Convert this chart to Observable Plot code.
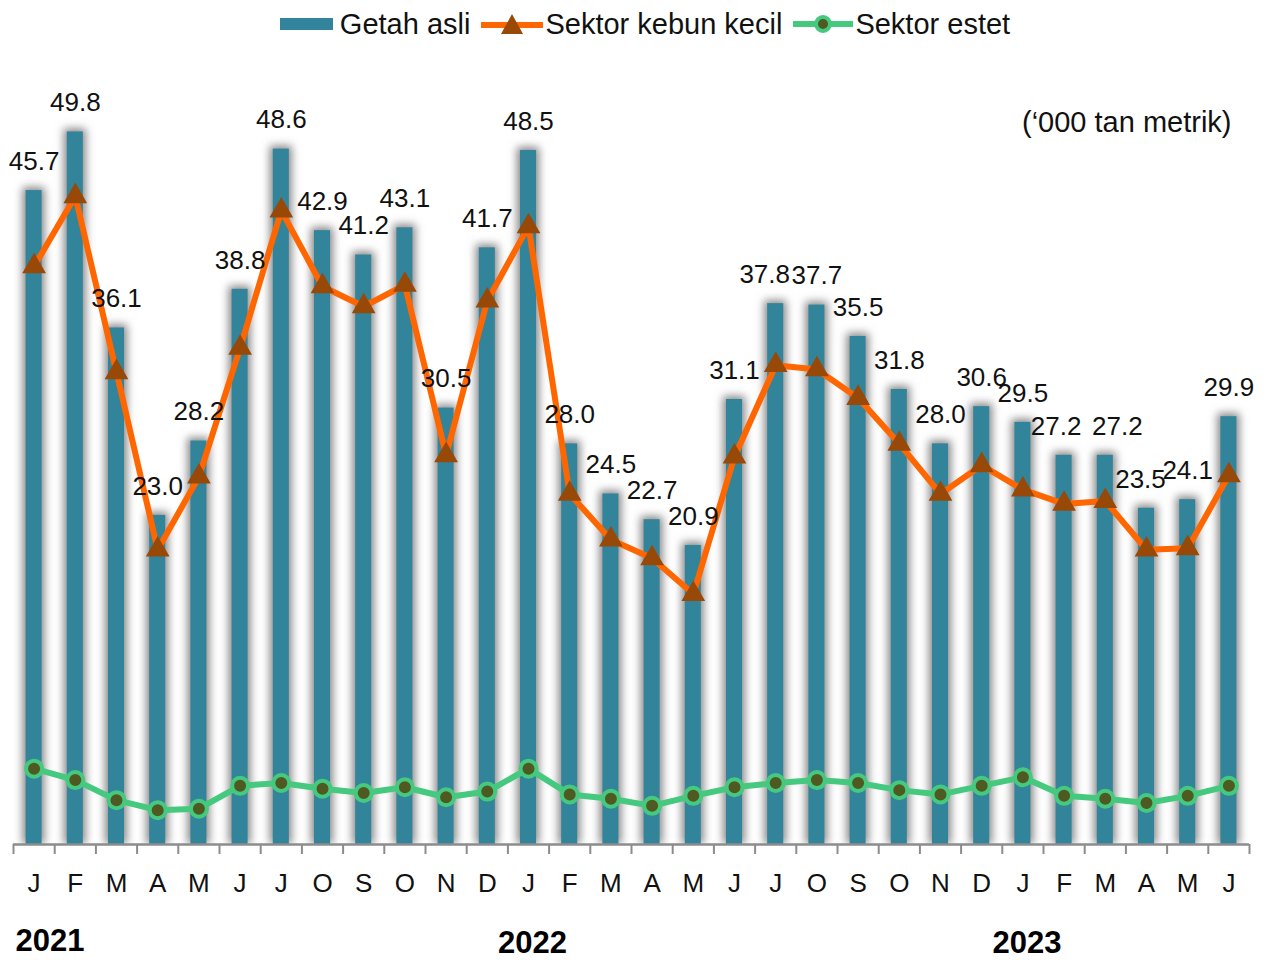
<!DOCTYPE html>
<html>
<head>
<meta charset="utf-8">
<script src="https://cdn.jsdelivr.net/npm/d3@7"></script>
<script src="https://cdn.jsdelivr.net/npm/@observablehq/plot@0.6"></script>
<style>
  html, body { margin: 0; padding: 0; background: #fff; }
  body { width: 1268px; font-family: Arial, "Liberation Sans", sans-serif; color: #111; }
  #legend { height: 48px; display: flex; align-items: center; justify-content: center; padding-left: 22px; box-sizing: border-box; font-size: 29px; }
  .item { display: flex; align-items: center; margin: 0 5px; }
  .item svg { display: block; }
  #chart svg { display: block; }
</style>
</head>
<body>
<div id="legend"></div>
<div id="chart"></div>
<script>
// ---- Data (thousand tonnes) ----
const monthLetters = ["J","F","M","A","M","J","J","O","S","O","N","D",
                      "J","F","M","A","M","J","J","O","S","O","N","D",
                      "J","F","M","A","M","J"];
const yearLabels = ["2021", "2022", "2023"];
const yearStartIndex = [0, 12, 24];

const getahAsli = [45.7, 49.8, 36.1, 23.0, 28.2, 38.8, 48.6, 42.9, 41.2, 43.1, 30.5, 41.7,
                   48.5, 28.0, 24.5, 22.7, 20.9, 31.1, 37.8, 37.7, 35.5, 31.8, 28.0, 30.6,
                   29.5, 27.2, 27.2, 23.5, 24.1, 29.9];
const kebunKecil = [40.4, 45.3, 33.0, 20.6, 25.7, 34.7, 44.3, 39.0, 37.6, 39.1, 27.2, 38.0,
                    43.2, 24.5, 21.3, 20.0, 17.5, 27.1, 33.5, 33.2, 31.2, 28.0, 24.5, 26.5,
                    24.8, 23.8, 24.0, 20.6, 20.7, 25.8];
const estet = [5.3, 4.5, 3.1, 2.4, 2.5, 4.1, 4.3, 3.9, 3.6, 4.0, 3.3, 3.7,
               5.3, 3.5, 3.2, 2.7, 3.4, 4.0, 4.3, 4.5, 4.3, 3.8, 3.5, 4.1,
               4.7, 3.4, 3.2, 2.9, 3.4, 4.1];
const seriesNames = ["Getah asli", "Sektor kebun kecil", "Sektor estet"];
const unitNote = "(\u2018000 tan metrik)";

// ---- Colours ----
const C_BAR = "#31849b", C_ORANGE = "#ff6600", C_TRI = "#984807", C_GREEN = "#45c97e", C_DOT = "#4f5a22";

// ---- Tables ----
const idx = d3.range(getahAsli.length);
const bars = idx.map(i => ({i, v: getahAsli[i]}));
const small = idx.map(i => ({i, v: kebunKecil[i]}));
const est = idx.map(i => ({i, v: estet[i]}));
const years = yearLabels.map((y, k) => ({i: yearStartIndex[k], y}));

// ---- Legend ----
const legend = document.getElementById("legend");
function addItem(svgMarkup, label, textGap) {
  const d = document.createElement("div");
  d.className = "item";
  d.innerHTML = svgMarkup + `<span style="margin-left:${textGap}px">${label}</span>`;
  legend.appendChild(d);
}
addItem(`<svg width="53" height="14"><rect x="0" y="1" width="53" height="12" fill="${C_BAR}"/></svg>`, seriesNames[0], 7);
addItem(`<svg width="64" height="26"><line x1="1" x2="63" y1="14" y2="14" stroke="${C_ORANGE}" stroke-width="6"/><path d="M32,3 L43,23 L21,23 Z" fill="${C_TRI}"/></svg>`, seriesNames[1], 1);
addItem(`<svg width="62" height="24"><line x1="1" x2="61" y1="12" y2="12" stroke="${C_GREEN}" stroke-width="6"/><circle cx="31" cy="12" r="7" fill="${C_DOT}" stroke="${C_GREEN}" stroke-width="4"/></svg>`, seriesNames[2], 1);

// ---- Chart ----
const W = 1268, H = 912, mL = 13, mR = 19, mT = 9, mB = 116;
const step = (W - mL - mR) / idx.length;

// label nudges (style only) to keep crowded labels apart
const nudges = [[18, -11], [25, -8], [26, 12], [27, -6]];
const nudged = new Set(nudges.map(n => n[0]));
const labelText = d => d.v.toFixed(1);
const labelOpts = {x: "i", y: "v", text: labelText, dy: -29, lineAnchor: "middle", fontSize: 26, fill: "#111"};

const chart = Plot.plot({
  width: W, height: H,
  marginLeft: mL, marginRight: mR, marginTop: mT, marginBottom: mB,
  style: {fontFamily: "Arial, 'Liberation Sans', sans-serif", color: "#111", background: "#fff", overflow: "visible"},
  x: {type: "band", domain: idx, paddingInner: 0.61, paddingOuter: 0.305, round: false, axis: null, label: null},
  y: {domain: [0, 55], axis: null},
  marks: [
    Plot.barY(bars, {x: "i", y: "v", fill: C_BAR}),
    Plot.ruleY([0], {stroke: "#8c8c8c", strokeWidth: 2.5}),
    Plot.ruleX(idx, {x: d => d, y1: 0, y2: 0, dx: -step / 2, insetBottom: -10, stroke: "#8c8c8c", strokeWidth: 2}),
    Plot.ruleX([idx[idx.length - 1]], {x: d => d, y1: 0, y2: 0, dx: step / 2, insetBottom: -10, stroke: "#8c8c8c", strokeWidth: 2}),
    Plot.axisX({tickSize: 0, tickPadding: 29, fontSize: 26, label: null, tickFormat: i => monthLetters[i], color: "#111"}),
    Plot.line(small, {x: "i", y: "v", stroke: C_ORANGE, strokeWidth: 6, strokeLinejoin: "round"}),
    Plot.dot(small, {x: "i", y: "v", symbol: "triangle", r: 8.8, fill: C_TRI, stroke: "none"}),
    Plot.line(est, {x: "i", y: "v", stroke: C_GREEN, strokeWidth: 6, strokeLinejoin: "round"}),
    Plot.dot(est, {x: "i", y: "v", r: 8, fill: C_DOT, stroke: C_GREEN, strokeWidth: 4}),
    Plot.text(bars.filter(d => !nudged.has(d.i)), labelOpts),
    ...nudges.map(([k, dx]) => Plot.text(bars.filter(d => d.i === k), {...labelOpts, dx})),
    Plot.text(years.slice(0, 1), {x: "i", y: 0, text: "y", dy: 97, dx: 16, lineAnchor: "middle", fontSize: 31, fontWeight: "bold", fill: "#000"}),
    Plot.text(years.slice(1), {x: "i", y: 0, text: "y", dy: 99, dx: 4, lineAnchor: "middle", fontSize: 31, fontWeight: "bold", fill: "#000"}),
    Plot.text([unitNote], {frameAnchor: "top-right", text: d => d, textAnchor: "end", lineAnchor: "middle", dx: -18, dy: 65, fontSize: 29, fill: "#111"})
  ]
});
document.getElementById("chart").appendChild(chart);

// Soft shadow behind bars, clipped at the baseline
const baseY = chart.scale("y").apply(0);
const svg = d3.select(chart);
const defs = svg.insert("defs", ":first-child");
const f = defs.append("filter").attr("id", "barShadow")
  .attr("filterUnits", "userSpaceOnUse").attr("x", 0).attr("y", 0).attr("width", W).attr("height", baseY);
f.append("feMorphology").attr("in", "SourceAlpha").attr("operator", "dilate").attr("radius", 3).attr("result", "dil");
f.append("feGaussianBlur").attr("in", "dil").attr("stdDeviation", 4.5).attr("result", "blur");
f.append("feFlood").attr("flood-color", "#7a7a7a").attr("flood-opacity", 0.9).attr("result", "col");
f.append("feComposite").attr("in", "col").attr("in2", "blur").attr("operator", "in").attr("result", "shadow");
const m = f.append("feMerge");
m.append("feMergeNode").attr("in", "shadow");
m.append("feMergeNode").attr("in", "SourceGraphic");
svg.select('g[aria-label="bar"]').attr("filter", "url(#barShadow)");
</script>
</body>
</html>
